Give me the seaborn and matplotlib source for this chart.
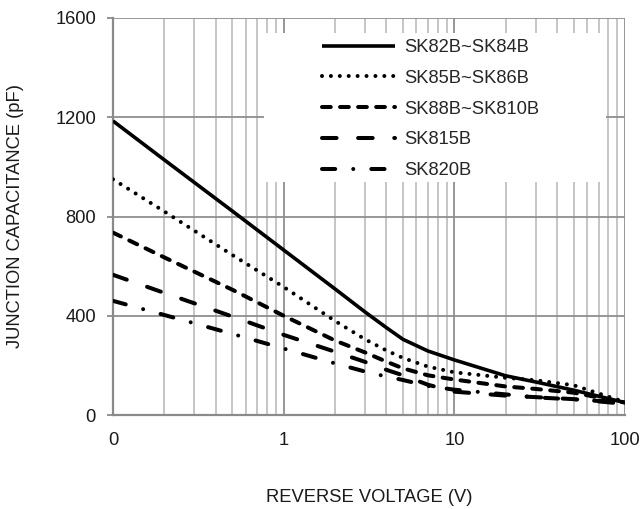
import matplotlib
matplotlib.use("Agg")
import matplotlib.pyplot as plt
import matplotlib.patches as mpatches
import seaborn as sns
import pandas as pd

# ---- data ----
voltage = [0.1, 0.2, 0.5, 1, 2, 3, 4, 5, 7, 10, 20, 30, 50, 100]
sk82b_84b = [1185, 1028, 822, 665, 508, 415, 352, 305, 258, 222, 158, 133, 100, 50]
sk85b_86b = [950, 820, 645, 516, 379, 305, 260, 230, 195, 172, 150, 140, 120, 52]
sk88b_810b = [735, 635, 505, 400, 300, 252, 215, 188, 160, 143, 115, 105, 90, 50]
sk815b = [565, 492, 397, 323, 255, 214, 182, 160, 122, 94, 78, 72, 64, 45]
sk820b = [460, 403, 327, 268, 208, 175, 155, 141, 117, 102, 83, 71, 63, 50]
series_names = ["SK82B~SK84B", "SK85B~SK86B", "SK88B~SK810B", "SK815B", "SK820B"]
series_values = [sk82b_84b, sk85b_86b, sk88b_810b, sk815b, sk820b]
x_ticks = [0.1, 1, 10, 100]
x_tick_labels = ["0", "1", "10", "100"]
y_ticks = [0, 400, 800, 1200, 1600]

sns.set_theme(style="white")
plt.rcParams["font.family"] = ["Liberation Sans", "DejaVu Sans"]
plt.rcParams["lines.scale_dashes"] = False

FS = 13.2
fig = plt.figure(figsize=(6.4, 5.09), dpi=100)
W, H = 640, 509
ax = fig.add_axes([113 / W, (H - 415) / H, 512 / W, 397 / H])

styles = [
    dict(linestyle="-", lw=2.6),
    dict(linestyle=(0, (0.01, 6.4)), lw=2.9),
    dict(linestyle=(0, (6.3, 6.7)), lw=2.9),
    dict(linestyle=(0, (10.5, 15.5)), lw=2.9),
    dict(linestyle=(0, (9.5, 13, 0.01, 13)), lw=2.9),
]

for name, vals, st in zip(series_names, series_values, styles):
    df = pd.DataFrame({"V": voltage, "C": vals})
    sns.lineplot(data=df, x="V", y="C", ax=ax, color="black",
                 dash_capstyle="round", solid_capstyle="butt",
                 solid_joinstyle="round",
                 label=name, zorder=5, **st)

ax.set_xscale("log")
ax.set_xlim(0.1, 100)
ax.set_ylim(0, 1600)
ax.set_xticks(x_ticks)
ax.set_xticklabels(x_tick_labels)
ax.set_xticks([m * d for d in (0.1, 1, 10) for m in range(2, 10)], minor=True)
ax.set_xticklabels([], minor=True)
ax.set_yticks(y_ticks)

ax.grid(True, which="major", color="#8f8f8f", lw=1.3, zorder=1)
ax.grid(True, which="minor", axis="x", color="#c0c0c0", lw=1.3, zorder=1)
ax.set_axisbelow(True)

for s in ["top", "right"]:
    ax.spines[s].set_visible(False)
for s in ["left", "bottom"]:
    ax.spines[s].set_color("#8a8a8a")
    ax.spines[s].set_linewidth(1.6)

ax.tick_params(axis="y", which="major", left=True, length=4.3, width=1.3,
               color="#8a8a8a", pad=8, labelsize=FS, labelcolor="#1a1a1a")
ax.tick_params(axis="x", which="both", bottom=False, length=0, pad=12,
               labelsize=FS, labelcolor="#1a1a1a")

ax.set_xlabel("REVERSE VOLTAGE (V)", fontsize=FS, color="#1a1a1a")
ax.set_ylabel("JUNCTION CAPACITANCE (pF)", fontsize=FS, color="#1a1a1a")
ax.xaxis.set_label_coords(0.5, -(489 - 415) / 397)
ax.yaxis.set_label_coords(-(113 - 24) / 512, 0.5)

# white area behind legend
rect = mpatches.Rectangle(((264 - 113) / 512, (415 - 182) / 397),
                          (606 - 264) / 512, (182 - 33) / 397,
                          transform=ax.transAxes, facecolor="white",
                          edgecolor="none", zorder=2)
ax.add_patch(rect)

leg = ax.legend(loc="upper left",
                bbox_to_anchor=((322 - 113) / 512, (415 - 39) / 397),
                frameon=False, fontsize=FS, handlelength=4.0,
                handletextpad=0.5, labelspacing=0.75, borderpad=0,
                borderaxespad=0)
leg.set_zorder(6)

fig.savefig("out.png", dpi=100)
